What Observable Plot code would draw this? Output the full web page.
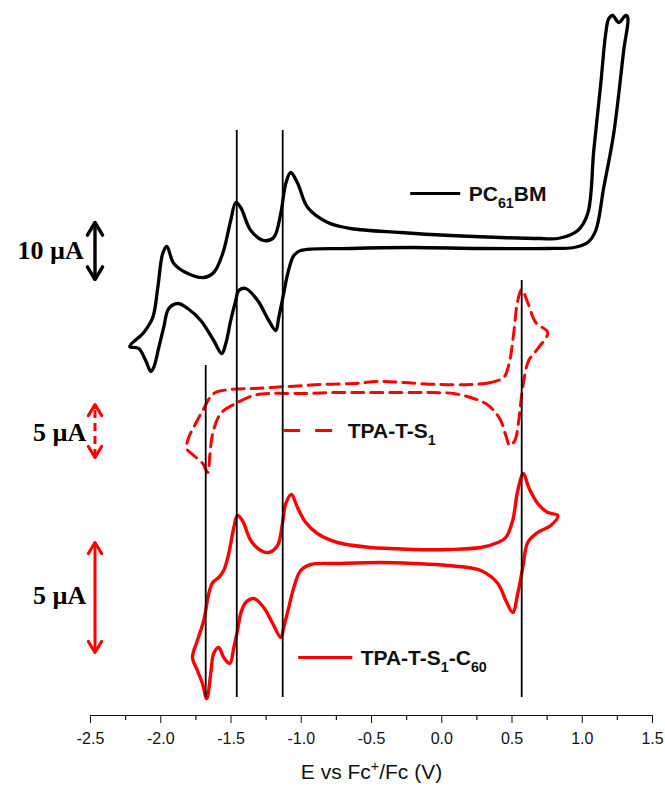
<!DOCTYPE html>
<html>
<head>
<meta charset="utf-8">
<script src="https://cdn.jsdelivr.net/npm/d3@7"></script>
<script src="https://cdn.jsdelivr.net/npm/@observablehq/plot@0.6"></script>
<style>
  html, body { margin: 0; padding: 0; background: #fff; }
</style>
</head>
<body>
<div id="chart"></div>
<script>
// ---- Data (E in V vs Fc+/Fc, signal in stacked display units, arbitrary) ----
// PC61BM (closed CV loop)
const pcbmE = [-2.221,-2.121,-2.057,-2.021,-1.986,-1.957,-1.907,-1.808,-1.694,-1.623,-1.559,-1.502,-1.466,-1.431,-1.359,-1.267,-1.196,-1.146,-1.110,-1.075,-1.025,-0.954,-0.811,-0.648,-0.292,0.064,0.420,0.705,0.826,0.968,1.039,1.082,1.132,1.167,1.189,1.217,1.260,1.310,1.324,1.295,1.224,1.153,1.096,1.039,0.940,0.754,0.278,-0.221,-0.648,-1.004,-1.053,-1.096,-1.125,-1.160,-1.181,-1.231,-1.310,-1.395,-1.445,-1.466,-1.502,-1.537,-1.566,-1.623,-1.715,-1.808,-1.879,-1.943,-1.979,-2.014,-2.050,-2.071,-2.107,-2.157];
const pcbmI = [369,383,398,428,462,469,452,442,438,443,462,495,513,508,485,475,478,502,532,543,532,508,493,487,483,480,478,477,477,485,502,565,632,682,697,700,693,700,698,665,582,528,485,473,468,467,467,468,467,465,460,442,422,398,385,395,415,427,425,415,395,372,362,375,395,407,412,407,388,368,348,344,355,367];

// TPA-T-S1 (dashed loop)
const tpaE = [0.441,0.349,0.206,-0.028,-0.270,-0.456,-0.626,-0.861,-1.096,-1.338,-1.502,-1.623,-1.701,-1.751,-1.801,-1.815,-1.765,-1.701,-1.665,-1.651,-1.630,-1.573,-1.452,-1.338,-1.217,-0.982,-0.740,-0.505,-0.270,-0.078,0.085,0.206,0.313,0.370,0.420,0.456,0.484,0.520,0.548,0.562,0.584,0.619,0.690,0.754,0.669,0.612,0.569,0.541,0.512,0.491,0.470];
const tpaI = [338,333,331,331,333,334,332,331,329,327,326,322,305,292,278,267,260,252,243,260,282,302,313,320,322,322,323,323,323,323,322,318,312,305,295,280,270,275,295,312,335,355,368,383,393,413,426,415,382,360,347];

// TPA-T-S1-C60 (solid red loop)
const dyadE = [-1.774,-1.739,-1.694,-1.658,-1.630,-1.587,-1.552,-1.516,-1.480,-1.454,-1.419,-1.359,-1.288,-1.231,-1.169,-1.134,-1.110,-1.070,-1.027,-0.968,-0.885,-0.742,-0.505,-0.363,-0.199,0.043,0.278,0.399,0.456,0.505,0.541,0.581,0.619,0.683,0.754,0.826,0.776,0.683,0.612,0.577,0.541,0.505,0.456,0.399,0.278,0.043,-0.199,-0.434,-0.740,-0.932,-1.004,-1.053,-1.089,-1.125,-1.146,-1.203,-1.267,-1.338,-1.395,-1.431,-1.454,-1.480,-1.509,-1.552,-1.587,-1.623,-1.644,-1.673,-1.703,-1.739];
const dyadI = [58,75,95,122,133,138,145,162,188,200,195,175,165,163,170,192,212,221,208,193,182,173,168,167,166,166,168,173,178,195,225,242,228,212,203,200,190,183,173,148,122,103,115,132,145,150,152,153,152,151,145,128,108,88,78,92,108,117,113,102,85,68,52,58,68,62,42,17,32,45];

// Peak-marker vertical lines (E, top, bottom)
const markerE = [-1.680, -1.459, -1.132, 0.569];
const markerTop = [350, 585, 585, 435];
const markerBottom = [18, 18, 18, 18];

// Axis ticks
const majorTicks = [-2.5, -2.0, -1.5, -1.0, -0.5, 0.0, 0.5, 1.0, 1.5];
const minorTicks = [-2.25, -1.75, -1.25, -0.75, -0.25, 0.25, 0.75, 1.25];

// Series names and scale bar labels
const seriesNames = ["PC61BM", "TPA-T-S1", "TPA-T-S1-C60"];
const scaleBarLabels = ["10 µA", "5 µA", "5 µA"];
const xTitle = "E vs Fc+/Fc (V)";

// ---- Build tables ----
const zip = (E, I) => E.map((e, i) => ({E: e, I: I[i]}));
const pcbm = zip(pcbmE, pcbmI);
const tpa = zip(tpaE, tpaI);
const dyad = zip(dyadE, dyadI);
const markers = markerE.map((e, i) => ({E: e, top: markerTop[i], bottom: markerBottom[i]}));

// Annotation layout (legend samples and scale bars)
const legend = [
  {name: seriesNames[0], x1: -0.221, x2: 0.135, y: 522, tx: 0.192, ty: 521, color: "black", dash: null},
  {name: seriesNames[1], x1: -1.125, x2: -0.776, y: 285, tx: -0.669, ty: 284, color: "red", dash: "17,15"},
  {name: seriesNames[2], x1: -1.018, x2: -0.633, y: 58, tx: -0.577, ty: 57, color: "red", dash: null}
];
const bars = [
  {label: scaleBarLabels[0], x: -2.468, lo: 436, hi: 493, lx: -2.548, ly: 465, color: "black", dash: null, sw: 3.4},
  {label: scaleBarLabels[1], x: -2.468, lo: 258, hi: 311, lx: -2.530, ly: 283, color: "red", dash: "8,5", sw: 3},
  {label: scaleBarLabels[2], x: -2.468, lo: 63, hi: 173, lx: -2.530, ly: 120, color: "red", dash: null, sw: 3}
];

const sans = "'Liberation Sans', Arial, Helvetica, sans-serif";
const serif = "'Liberation Serif', 'Times New Roman', serif";

const barMarks = bars.flatMap(b => {
  const len = b.hi - b.lo;
  return [
    Plot.ruleX([b], {x: "x", y1: "lo", y2: "hi", stroke: b.color, strokeWidth: b.sw, strokeDasharray: b.dash ?? undefined}),
    Plot.arrow([b], {x1: "x", x2: "x", y1: "lo", y2: "hi", stroke: b.color, strokeWidth: b.sw, headLength: 6.5, headAngle: 62, insetStart: len - 3}),
    Plot.arrow([b], {x1: "x", x2: "x", y1: "hi", y2: "lo", stroke: b.color, strokeWidth: b.sw, headLength: 6.5, headAngle: 62, insetStart: len - 3}),
    Plot.text([b], {x: "lx", y: "ly", text: "label", textAnchor: "end", fontFamily: serif, fontWeight: "bold", fontSize: 26, fill: "black"})
  ];
});

const legendMarks = legend.flatMap(l => [
  Plot.ruleY([l], {y: "y", x1: "x1", x2: "x2", stroke: l.color, strokeWidth: 3.2, strokeDasharray: l.dash ?? undefined}),
  Plot.text([l], {x: "tx", y: "ty", text: "name", textAnchor: "start", fontFamily: sans, fontWeight: "bold", fontSize: 21, fill: "#111"})
]);

const chart = Plot.plot({
  width: 665,
  height: 787,
  marginLeft: 90,
  marginRight: 13,
  marginTop: 0,
  marginBottom: 72,
  style: {fontFamily: sans, fontSize: "16px", color: "#111", background: "#fff"},
  x: {domain: [-2.5, 1.5], ticks: majorTicks, tickSize: 8, tickPadding: 9, tickFormat: d => d.toFixed(1), label: null},
  y: {domain: [0, 715], axis: null},
  marks: [
    Plot.ruleY([0], {x1: -2.5, x2: 1.5, stroke: "#111", strokeWidth: 1.2}),
    Plot.ruleX(minorTicks, {x: d => d, y1: 0, y2: -5, stroke: "#111", strokeWidth: 1.2}),
    Plot.line(pcbm, {x: "E", y: "I", stroke: "black", strokeWidth: 3.3, curve: "catmull-rom-closed", strokeLinejoin: "round"}),
    Plot.line(tpa, {x: "E", y: "I", stroke: "red", strokeWidth: 3, strokeDasharray: "12,7", curve: "catmull-rom-closed"}),
    Plot.line(dyad, {x: "E", y: "I", stroke: "red", strokeWidth: 3.4, curve: "catmull-rom-closed", strokeLinejoin: "round"}),
    Plot.ruleX(markers, {x: "E", y1: "bottom", y2: "top", stroke: "black", strokeWidth: 1.8}),
    ...legendMarks,
    ...barMarks,
    Plot.text([xTitle], {x: -0.5, y: -57, text: d => d, fontFamily: sans, fontSize: 21, fill: "#111"})
  ]
});

// Rich text: subscripts and superscripts as real tspans
const rich = {
  "PC61BM": [["PC"], ["61", "sub"], ["BM"]],
  "TPA-T-S1": [["TPA-T-S"], ["1", "sub"]],
  "TPA-T-S1-C60": [["TPA-T-S"], ["1", "sub"], ["-C"], ["60", "sub"]],
  "E vs Fc+/Fc (V)": [["E vs Fc"], ["+", "sup"], ["/Fc (V)"]]
};
const NS = "http://www.w3.org/2000/svg";
chart.querySelectorAll("text").forEach(t => {
  const parts = rich[t.textContent];
  if (!parts) return;
  t.textContent = "";
  let shift = 0;
  parts.forEach(([s, kind]) => {
    const ts = document.createElementNS(NS, "tspan");
    ts.textContent = s;
    const target = kind === "sub" ? 7 : kind === "sup" ? -8 : 0;
    if (target !== shift) ts.setAttribute("dy", (target - shift) + "px");
    shift = target;
    if (kind) ts.setAttribute("font-size", "0.68em");
    t.appendChild(ts);
  });
});

document.getElementById("chart").appendChild(chart);
</script>
</body>
</html>
